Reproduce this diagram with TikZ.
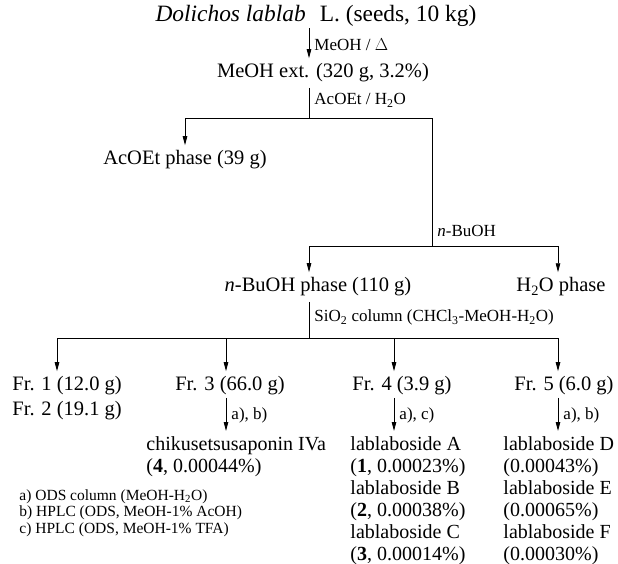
\documentclass[tikz,border=0pt]{standalone}
\usepackage{fontspec}
\setmainfont{Liberation Serif}
\usetikzlibrary{arrows.meta}

\tikzset{
  main/.style={inner sep=0pt, font=\fontsize{20.5}{22}\selectfont},
  cpd/.style={inner sep=0pt, anchor=north west, align=left, font=\fontsize{20}{22}\selectfont},
  lbl/.style={inner sep=0pt, anchor=west, xshift=5pt, font=\fontsize{17}{19}\selectfont},
  arr/.style={-{Triangle[length=9pt,width=4.5pt]}, shorten >=5pt},
}

\begin{document}
\begin{tikzpicture}[x=1pt,y=-1pt,line width=0.9pt]
  \useasboundingbox (0,0) rectangle (618,564);
  % extraction
  \node[main,font=\fontsize{23.4}{26}\selectfont] (src) at (316,16) {\textit{Dolichos lablab}\hspace{0.6em}L. (seeds, 10 kg)};
  \node[main] (ext) at (323,73) {MeOH ext. (320 g, 3.2\%)};
  \node[main] (aco) at (185,160) {AcOEt phase (39 g)};
  \node[main] (bu) at (318,287) {\textit{n}-BuOH phase (110 g)};
  \node[main] (wat) at (561,287) {H\textsubscript{2}O phase};
  % fractions
  \node[main,anchor=west] (fr1) at (12,386) {Fr. 1 (12.0 g)};
  \node[main,anchor=west] (fr2) at (12,411) {Fr. 2 (19.1 g)};
  \node[main] (fr3) at (230,386) {Fr. 3 (66.0 g)};
  \node[main] (fr4) at (402,386) {Fr. 4 (3.9 g)};
  \node[main] (fr5) at (564,386) {Fr. 5 (6.0 g)};
  % compounds
  \node[cpd] (chiku) at (146,436) {chikusetsusaponin IVa\\(\textbf{4}, 0.00044\%)};
  \node[cpd] (labA) at (350,436) {lablaboside A\\(\textbf{1}, 0.00023\%)\\lablaboside B\\(\textbf{2}, 0.00038\%)\\lablaboside C\\(\textbf{3}, 0.00014\%)};
  \node[cpd] (labD) at (503,436) {lablaboside D\\(0.00043\%)\\lablaboside E\\(0.00065\%)\\lablaboside F\\(0.00030\%)};
  \node[inner sep=0pt,anchor=north west,align=left,font=\fontsize{15.5}{16.5}\selectfont] (notes) at (19,489)
    {a) ODS column (MeOH-H\textsubscript{2}O)\\b) HPLC (ODS, MeOH-1\% AcOH)\\c) HPLC (ODS, MeOH-1\% TFA)};

  \coordinate (s1) at (309,118);
  \coordinate (s2) at (432,246);
  \coordinate (s3) at (309,338);
  \coordinate (c1) at (57,0);
  \coordinate (c3) at (226,0);
  \coordinate (c4) at (394,0);
  \coordinate (c5) at (558,0);

  \draw[arr,shorten <=1pt] (src.south -| s1) -- node[lbl]{MeOH / $\Delta$} (ext.north -| s1);
  \draw[shorten <=5pt] (ext.south -| s1) -- node[lbl]{AcOEt / H\textsubscript{2}O} (s1);
  \draw[arr] (s1) -| (aco.north);
  \draw (s1) -- (s1 -| s2) -- node[lbl,pos=0.88]{\textit{n}-BuOH} (s2);
  \draw[arr] (s2) -| (bu.north -| s1);
  \draw[arr] (s2) -| (wat.north -| c5);
  \draw[shorten <=5pt] (bu.south -| s3) -- node[lbl]{SiO\textsubscript{2} column (CHCl\textsubscript{3}-MeOH-H\textsubscript{2}O)} (s3);
  \draw[arr] (s3) -| (fr1.north -| c1);
  \draw[arr] (s3) -| (fr3.north -| c3);
  \draw[arr] (s3) -| (fr4.north -| c4);
  \draw[arr] (s3) -| (fr5.north -| c5);
  \draw[arr,shorten <=2pt] (fr3.south -| c3) -- node[lbl]{a), b)} (chiku.north -| c3);
  \draw[arr,shorten <=2pt] (fr4.south -| c4) -- node[lbl]{a), c)} (labA.north -| c4);
  \draw[arr,shorten <=2pt] (fr5.south -| c5) -- node[lbl]{a), b)} (labD.north -| c5);
\end{tikzpicture}
\end{document}
